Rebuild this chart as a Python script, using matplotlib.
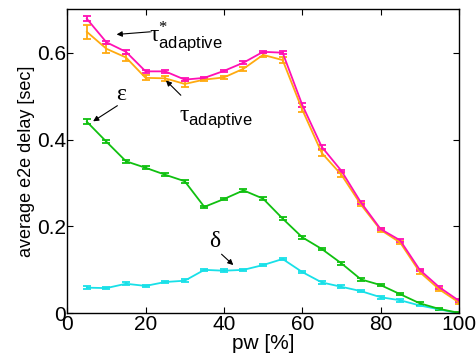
import numpy as np
import matplotlib
matplotlib.use('Agg')
import matplotlib.pyplot as plt

plt.rcParams['font.family'] = ['Liberation Sans', 'DejaVu Sans']
plt.rcParams['mathtext.fontset'] = 'custom'
plt.rcParams['mathtext.rm'] = 'Liberation Serif'
plt.rcParams['mathtext.sf'] = 'Liberation Sans'

# DATA #
pw = [5, 10, 15, 20, 25, 30, 35, 40, 45, 50, 55, 60, 65, 70, 75, 80, 85, 90, 95, 100]

tau_star = [0.678, 0.624, 0.602, 0.557, 0.557, 0.538, 0.542, 0.558, 0.577, 0.602,
            0.600, 0.480, 0.383, 0.328, 0.255, 0.194, 0.168, 0.100, 0.060, 0.029]
tau_star_err = [0.006, 0.004, 0.004, 0.004, 0.004, 0.004, 0.003, 0.003, 0.004, 0.003,
                0.003, 0.004, 0.004, 0.003, 0.003, 0.003, 0.003, 0.003, 0.003, 0.003]

tau = [0.648, 0.609, 0.589, 0.542, 0.541, 0.528, 0.538, 0.543, 0.563, 0.595,
       0.583, 0.469, 0.369, 0.319, 0.250, 0.192, 0.163, 0.095, 0.055, 0.025]
tau_err = [0.016, 0.010, 0.009, 0.006, 0.006, 0.006, 0.004, 0.004, 0.005, 0.004,
           0.006, 0.006, 0.006, 0.005, 0.004, 0.004, 0.004, 0.004, 0.004, 0.004]

eps = [0.441, 0.395, 0.350, 0.335, 0.319, 0.304, 0.245, 0.263, 0.283, 0.264,
       0.218, 0.175, 0.148, 0.115, 0.078, 0.065, 0.044, 0.023, 0.010, 0.001]
eps_err = [0.006, 0.004, 0.003, 0.003, 0.003, 0.003, 0.003, 0.003, 0.003, 0.003,
           0.003, 0.003, 0.003, 0.003, 0.003, 0.003, 0.003, 0.003, 0.002, 0.001]

delta = [0.059, 0.058, 0.068, 0.063, 0.072, 0.075, 0.100, 0.098, 0.100, 0.111,
         0.125, 0.095, 0.071, 0.061, 0.051, 0.037, 0.030, 0.018, 0.009, 0.000]
delta_err = [0.004, 0.003, 0.003, 0.003, 0.003, 0.003, 0.003, 0.003, 0.003, 0.003,
             0.003, 0.003, 0.003, 0.003, 0.003, 0.003, 0.003, 0.002, 0.002, 0.001]

series = [(delta, delta_err, '#18e0e8'),
          (eps, eps_err, '#10c010'),
          (tau, tau_err, '#ffaa10'),
          (tau_star, tau_star_err, '#ff10b4')]

# PLOT #
fig = plt.figure(figsize=(4.77, 3.56), dpi=100)
ax = fig.add_axes([0.141, 0.120, 0.821, 0.854])

for y, e, c in series:
    ax.errorbar(pw, y, yerr=e, color=c, lw=1.3, elinewidth=1.3, capsize=3, capthick=1.3)

ax.set_xlim(0, 100)
ax.set_ylim(0, 0.7)
ax.set_xticks([0, 20, 40, 60, 80, 100])
ax.set_yticks([0, 0.2, 0.4, 0.6])
ax.set_yticklabels(['0', '0.2', '0.4', '0.6'])
ax.tick_params(direction='in', top=True, right=True, length=4, labelsize=15, pad=1)
for s in ax.spines.values():
    s.set_linewidth(1.0)
ax.set_xlabel('pw [%]', fontsize=15, labelpad=0)
ax.set_ylabel('average e2e delay [sec]', fontsize=13, labelpad=1)

arrow = dict(arrowstyle='-|>', color='black', lw=0.8, mutation_scale=8, shrinkA=0, shrinkB=0)

ax.annotate('', xy=(12.6, 0.642), xytext=(21.1, 0.648), arrowprops=arrow)
ax.text(21.0, 0.638, r'$\mathrm{\tau}^{*}_{\mathsf{adaptive}}$', fontsize=17, va='center', ha='left')

ax.annotate('', xy=(25.2, 0.536), xytext=(29.0, 0.502), arrowprops=arrow)
ax.text(28.6, 0.448, r'$\mathrm{\tau}_{\mathsf{adaptive}}$', fontsize=17, va='center', ha='left')

ax.annotate('', xy=(6.6, 0.442), xytext=(12.8, 0.478), arrowprops=arrow)
ax.text(13.9, 0.506, r'$\mathrm{\varepsilon}$', fontsize=17, va='center', ha='center')

ax.annotate('', xy=(42.4, 0.111), xytext=(39.4, 0.136), arrowprops=arrow)
ax.text(37.7, 0.167, r'$\mathrm{\delta}$', fontsize=17, va='center', ha='center')

fig.savefig('out.png', dpi=100)
